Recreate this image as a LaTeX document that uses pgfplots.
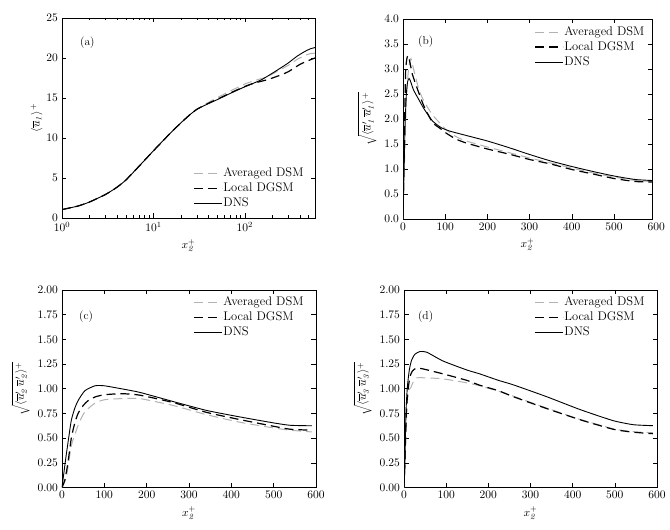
\RequirePackage{fix-cm}
\documentclass[border=0pt]{standalone}
\usepackage{pgfplots}
\pgfplotsset{compat=1.18}
\definecolor{avgray}{gray}{0.70}
\pgfplotsset{
  every axis/.append style={font=\fontsize{11.5}{13.5}\selectfont},
  myax/.style={scale only axis, anchor=south west,
    axis line style={line width=0.6pt}, tick style={line width=0.6pt,black},
    major tick length=4.5pt, minor tick length=2.5pt, tick align=inside,
    xlabel={$x_{\mathit{2}}^{+}$},
    legend cell align=left,
    legend style={draw=none, fill=none, inner sep=0pt, row sep=2pt,
      font=\fontsize{12.5}{14.5}\selectfont,
      nodes={inner sep=1pt, text height=8.5pt, text depth=2.5pt}},
    legend image code/.code={\draw[##1] (0pt,0pt) -- (28pt,0pt);},
  },
  avg/.style={color=avgray, line width=1.0pt, dash pattern=on 9pt off 5pt, smooth, tension=0.35},
  loc/.style={color=black, line width=1.2pt, dash pattern=on 9pt off 5pt, smooth, tension=0.35},
  dns/.style={color=black, line width=0.9pt, smooth, tension=0.35},
}
\begin{document}
\fontsize{11.5}{13.5}\selectfont
\begin{tikzpicture}
\useasboundingbox (0pt,0pt) rectangle (670pt,530pt);
% (a)
\begin{axis}[myax, at={(62pt,312pt)}, width=253pt, height=200pt,
  xmode=log, xmin=1, xmax=585, ymin=0, ymax=25, ytick={0,5,10,15,20,25},
  ylabel={$\langle \overline{u}_{\mathit{1}}\rangle^{+}$}, ylabel shift=-4pt,
  legend style={at={(0.518,0.254)}, anchor=north west}]
\addplot[avg] coordinates {(1,1.05)(1.5,1.5)(2,2.0)(3,2.95)(4,3.85)(5,4.75)(7,6.5)(10,8.4)(15,10.5)(20,11.9)(25,12.9)(30,13.6)(40,14.45)(50,15.05)(70,15.9)(100,16.75)(130,17.2)(170,17.6)(200,18.0)(250,18.6)(300,19.1)(370,19.8)(450,20.3)(520,20.55)(585,20.6)};
\addlegendentry{Averaged DSM}
\addplot[loc] coordinates {(1,1.05)(1.5,1.5)(2,2.0)(3,2.95)(4,3.85)(5,4.75)(7,6.5)(10,8.4)(15,10.5)(20,11.9)(25,12.9)(30,13.6)(40,14.35)(50,14.85)(70,15.65)(100,16.45)(130,16.9)(178,17.3)(250,17.9)(300,18.3)(400,19.2)(500,19.7)(585,20.0)};
\addlegendentry{Local DGSM}
\addplot[dns] coordinates {(1,1.05)(1.5,1.5)(2,2.0)(3,2.95)(4,3.85)(5,4.75)(7,6.5)(10,8.4)(15,10.5)(20,11.9)(25,12.9)(30,13.6)(40,14.3)(50,14.8)(70,15.6)(100,16.4)(150,17.25)(200,18.1)(250,18.8)(300,19.4)(370,20.2)(450,20.8)(520,21.15)(585,21.3)};
\addlegendentry{DNS}
\node[anchor=west, inner sep=0pt] at (rel axis cs:0.071,0.875) {(a)};
\end{axis}
% (b)
\begin{axis}[myax, at={(403pt,311pt)}, width=249pt, height=200pt,
  xmin=0, xmax=590, ymin=0, ymax=4, xtick={0,100,...,500}, ytick={0,0.5,...,4},
  yticklabel style={/pgf/number format/.cd, fixed, fixed zerofill, precision=1},
  ylabel={$\sqrt{\langle \overline{u}'_{\mathit{1}}\,\overline{u}'_{\mathit{1}}\rangle^{+}}$},
  legend style={at={(0.526,0.968)}, anchor=north west},
  after end axis/.code={\node[anchor=north] at (axis cs:600,0) {$600$};}]
\addplot[avg] coordinates {(0,0)(4,1.3)(8,2.4)(12,2.9)(16,3.15)(19,3.21)(25,3.0)(38,2.58)(50,2.35)(70,2.08)(94,1.86)(100,1.8)(125,1.65)(150,1.56)(200,1.44)(250,1.33)(300,1.22)(350,1.12)(400,1.02)(450,0.92)(500,0.84)(550,0.77)(590,0.75)};
\addlegendentry{Averaged DSM}
\addplot[loc] coordinates {(0,0)(3,1.5)(6,2.9)(9,3.2)(12,3.27)(16,3.15)(22,2.9)(30,2.7)(38,2.51)(50,2.25)(70,1.93)(90,1.8)(100,1.73)(125,1.6)(150,1.52)(200,1.40)(250,1.30)(300,1.19)(350,1.10)(400,0.99)(450,0.90)(500,0.81)(550,0.75)(590,0.74)};
\addlegendentry{Local DGSM}
\addplot[dns] coordinates {(0,0)(2,0.8)(5,1.9)(8,2.5)(11,2.75)(14.5,2.81)(18,2.75)(25,2.58)(38,2.38)(50,2.2)(70,1.96)(90,1.83)(110,1.76)(150,1.67)(200,1.56)(250,1.43)(300,1.29)(350,1.16)(400,1.05)(450,0.95)(500,0.86)(550,0.79)(590,0.77)};
\addlegendentry{DNS}
\node[anchor=west, inner sep=0pt] at (rel axis cs:0.06,0.885) {(b)};
\end{axis}
% (c)
\begin{axis}[myax, at={(62pt,42.5pt)}, width=254pt, height=197.5pt,
  xmin=0, xmax=600, ymin=0, ymax=2, xtick={0,100,...,600}, ytick={0,0.25,...,2},
  yticklabel style={/pgf/number format/.cd, fixed, fixed zerofill, precision=2},
  ylabel={$\sqrt{\langle \overline{u}'_{\mathit{2}}\,\overline{u}'_{\mathit{2}}\rangle^{+}}$},
  legend style={at={(0.516,0.97)}, anchor=north west}]
\addplot[avg] coordinates {(0,0)(10,0.1)(22,0.42)(30,0.53)(38,0.63)(50,0.74)(62,0.8)(80,0.86)(102,0.89)(141,0.90)(184,0.9)(263,0.83)(342,0.737)(421,0.66)(500,0.603)(539,0.58)(590,0.563)};
\addlegendentry{Averaged DSM}
\addplot[loc] coordinates {(0,0)(7,0.08)(14,0.25)(22,0.5)(30,0.65)(38,0.75)(50,0.83)(62,0.88)(80,0.92)(102,0.94)(141,0.95)(184,0.935)(263,0.86)(342,0.76)(421,0.687)(500,0.62)(539,0.59)(590,0.58)};
\addlegendentry{Local DGSM}
\addplot[dns] coordinates {(0,0)(3,0.1)(6,0.2)(10,0.33)(14,0.45)(22,0.68)(30,0.8)(38,0.88)(54,0.98)(78,1.03)(100,1.03)(140,1.0)(184,0.963)(263,0.87)(342,0.78)(421,0.714)(500,0.654)(539,0.63)(590,0.625)};
\addlegendentry{DNS}
\node[anchor=west, inner sep=0pt] at (rel axis cs:0.067,0.866) {(c)};
\end{axis}
% (d)
\begin{axis}[myax, at={(404pt,42.5pt)}, width=253pt, height=197.5pt,
  xmin=0, xmax=600, ymin=0, ymax=2, xtick={0,100,...,600}, ytick={0,0.25,...,2},
  yticklabel style={/pgf/number format/.cd, fixed, fixed zerofill, precision=2},
  ylabel={$\sqrt{\langle \overline{u}'_{\mathit{3}}\,\overline{u}'_{\mathit{3}}\rangle^{+}}$},
  legend style={at={(0.514,0.97)}, anchor=north west}]
\addplot[avg] coordinates {(0,0)(3,0.35)(6.3,0.75)(10,0.97)(16,1.01)(22,1.07)(30,1.11)(54,1.11)(93,1.10)(149,1.06)(180,1.03)(224,0.975)(259,0.925)(338,0.805)(417,0.69)(496,0.595)(544,0.565)(590,0.555)};
\addlegendentry{Averaged DSM}
\addplot[loc] coordinates {(0,0)(3,0.4)(6,0.8)(10,1.0)(14,1.12)(20,1.18)(30,1.21)(46,1.2)(93,1.15)(149,1.085)(180,1.035)(224,0.98)(259,0.92)(338,0.80)(417,0.687)(496,0.59)(544,0.56)(590,0.545)};
\addlegendentry{Local DGSM}
\addplot[dns] coordinates {(0,0)(2,0.2)(4.7,0.76)(8,1.02)(12.6,1.19)(18,1.29)(26,1.35)(38,1.377)(54,1.37)(93,1.28)(149,1.19)(180,1.15)(224,1.085)(259,1.04)(338,0.92)(417,0.79)(496,0.677)(544,0.636)(590,0.626)};
\addlegendentry{DNS}
\node[anchor=west, inner sep=0pt] at (rel axis cs:0.055,0.866) {(d)};
\end{axis}
\end{tikzpicture}
\end{document}
